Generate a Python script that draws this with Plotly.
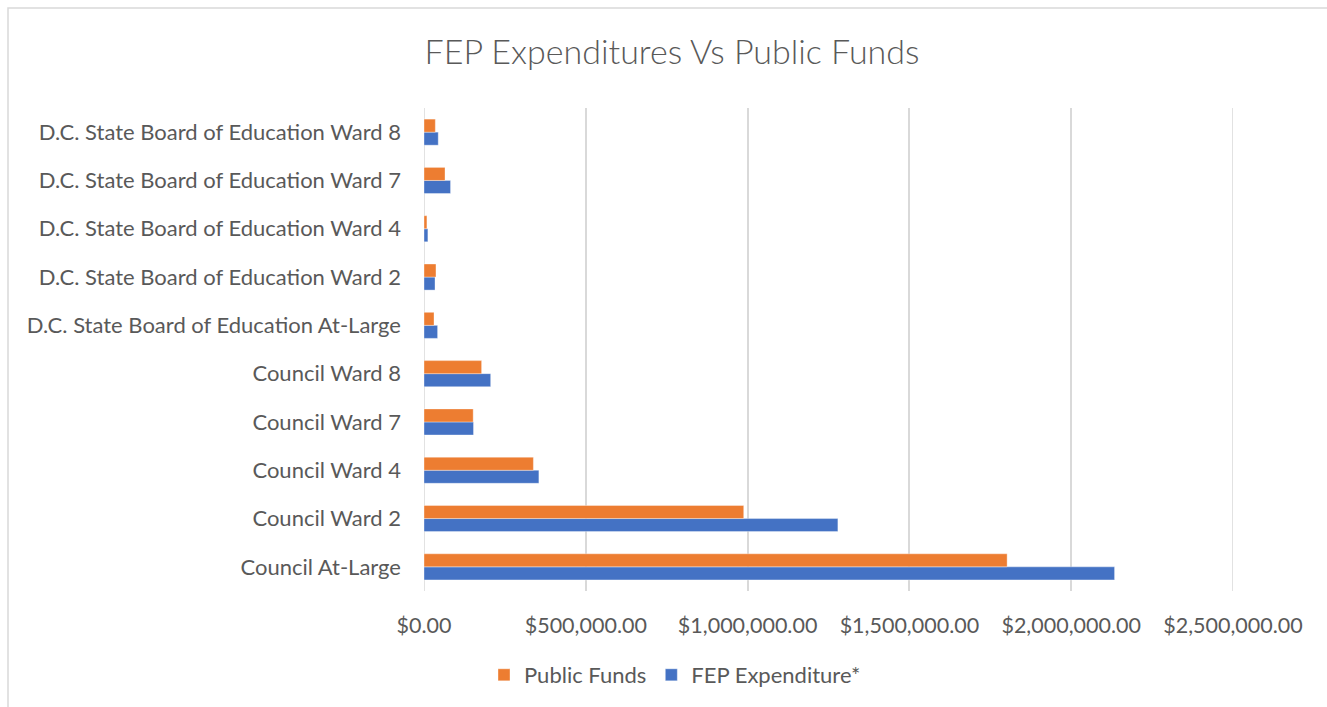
import plotly.graph_objects as go

categories = [
    "Council At-Large",
    "Council Ward 2",
    "Council Ward 4",
    "Council Ward 7",
    "Council Ward 8",
    "D.C. State Board of Education At-Large",
    "D.C. State Board of Education Ward 2",
    "D.C. State Board of Education Ward 4",
    "D.C. State Board of Education Ward 7",
    "D.C. State Board of Education Ward 8",
]
fep_expenditure = [2134000, 1279000, 355000, 153000, 206000, 42000, 34000, 12000, 82000, 44000]
public_funds = [1802000, 988000, 338000, 152000, 178000, 31000, 37000, 9000, 65000, 35000]
x_ticks = [0, 500000, 1000000, 1500000, 2000000, 2500000]

W, H = 1327, 707
L, R, T, B = 424, 94, 108, 116
pw, ph = W - L - R, H - T - B

FONT = "Lato"
GREY = "#595959"

fig = go.Figure()
fig.add_trace(go.Bar(
    y=categories, x=fep_expenditure, orientation="h", name="FEP Expenditure*",
    marker=dict(color="#4472C4", line=dict(color="rgba(255,255,255,0.6)", width=0.6)),
))
fig.add_trace(go.Bar(
    y=categories, x=public_funds, orientation="h", name="Public Funds",
    marker=dict(color="#ED7D31", line=dict(color="rgba(255,255,255,0.6)", width=0.6)),
))

def px_x(p):
    return (p - L) / pw

def px_y(p):
    return (H - B - p) / ph

fig.add_shape(type="rect", xref="paper", yref="paper",
              x0=px_x(8), x1=px_x(W + 20), y0=px_y(H + 20), y1=px_y(8),
              line=dict(color="#D9D9D9", width=1.5), fillcolor="rgba(0,0,0,0)", layer="below")

fig.update_layout(
    width=W, height=H,
    margin=dict(l=L, r=R, t=T, b=B),
    paper_bgcolor="white", plot_bgcolor="white",
    barmode="group", bargap=0.46, bargroupgap=0,
    font=dict(family=FONT, color=GREY),
    title=dict(text="FEP Expenditures Vs Public Funds", x=672 / W, xref="container",
               y=1 - 52 / H, yref="container", xanchor="center", yanchor="middle",
               font=dict(family=FONT, size=34, color=GREY, weight=300)),
    xaxis=dict(range=[0, 2500000], tickvals=x_ticks, tickformat="$,.2f",
               showgrid=True, gridcolor="#D9D9D9", gridwidth=1.5, zeroline=False,
               showline=False, ticks="", tickfont=dict(family=FONT, size=21.5, color=GREY),
               ticklabelstandoff=19, fixedrange=True),
    yaxis=dict(categoryorder="array", categoryarray=categories, showgrid=False,
               zeroline=False, showline=False, ticks="",
               tickfont=dict(family=FONT, size=22, color=GREY), ticklabelstandoff=22,
               fixedrange=True),
    legend=dict(orientation="h", traceorder="reversed", xref="container", yref="container",
                x=675 / W, y=1 - 675 / H, xanchor="center", yanchor="middle",
                font=dict(family=FONT, size=22, color=GREY), itemwidth=30),
    showlegend=True,
)
for xv in (x_ticks[0], x_ticks[-1]):
    fig.add_vline(x=xv, line=dict(color="#D9D9D9", width=1.5), layer="below")

fig.write_html("out.html")
